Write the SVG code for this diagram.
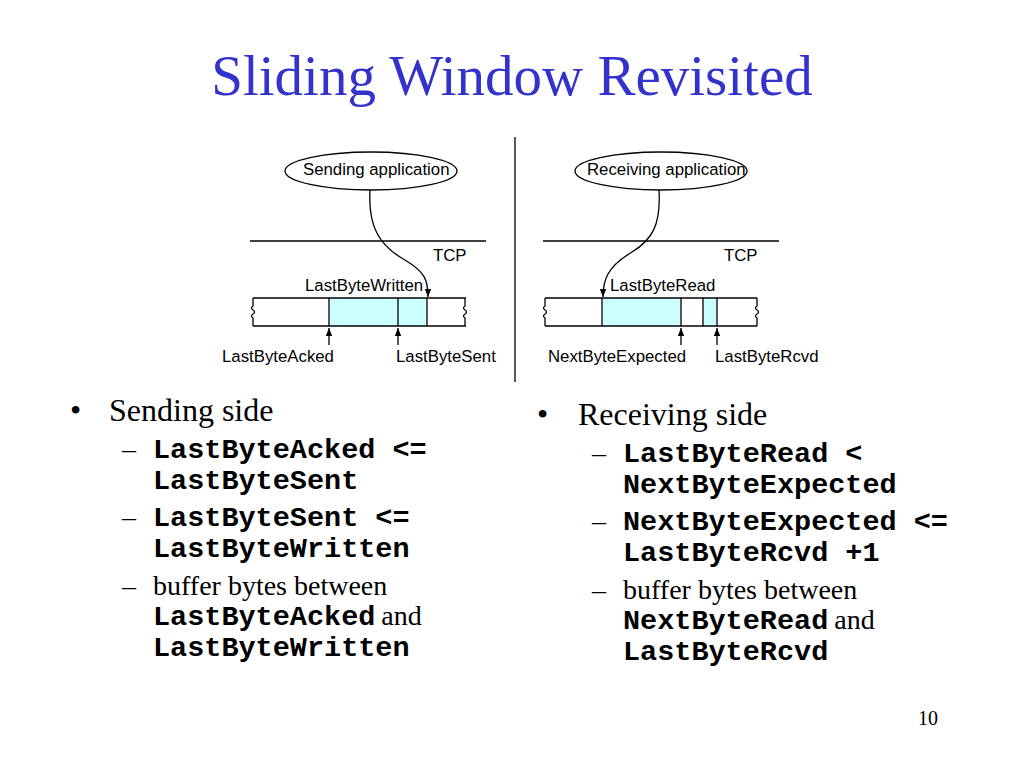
<svg xmlns="http://www.w3.org/2000/svg" width="1024" height="768" viewBox="0 0 1024 768">
<style>
.ln{stroke:#000;stroke-width:1.3;fill:none}
.fill{fill:#CCFFFF;stroke:none}
.lbl{font-family:"Liberation Sans",Arial,sans-serif;font-size:16.8px;fill:#000}
.title{font-family:"Liberation Serif","Times New Roman",serif;font-size:57px;fill:#3333CC}
.b1{font-family:"Liberation Serif","Times New Roman",serif;font-size:32px;fill:#000}
.b2{font-family:"Liberation Serif","Times New Roman",serif;font-size:28px;fill:#000}
.mono{font-family:"Liberation Mono","Courier New",monospace;font-size:28.5px;font-weight:bold;fill:#000}
.pg{font-family:"Liberation Serif","Times New Roman",serif;font-size:20px;fill:#000}
</style>
<defs>
<marker id="ah" viewBox="0 0 10 10" refX="10" refY="5" markerWidth="8" markerHeight="8" markerUnits="userSpaceOnUse" orient="auto">
<path d="M0,1 L10,5 L0,9 Z" fill="#000"/>
</marker>
</defs>
<rect width="1024" height="768" fill="#fff"/>
<text class="title" x="512" y="95" text-anchor="middle">Sliding Window Revisited</text>

<line class="ln" x1="515" y1="137" x2="515" y2="382"/>

<!-- Left diagram -->
<g id="send-app">
<ellipse class="ln" cx="371" cy="171" rx="86" ry="19"/>
<text class="lbl" x="303" y="175">Sending application</text>
</g>
<line class="ln" x1="250" y1="241" x2="486" y2="241"/>
<text class="lbl" x="433" y="261">TCP</text>
<g id="send-buffer">
<rect class="fill" x="329" y="298" width="98" height="28"/>
<line class="ln" x1="253" y1="298" x2="466" y2="298"/>
<line class="ln" x1="253" y1="326" x2="466" y2="326"/>
<path class="ln" d="M253,298 L253,306 Q250,308 253,310 Q256,312 253,314 Q250,316 253,318 L253,326"/>
<path class="ln" d="M465,298 L465,306 Q462,308 465,310 Q468,312 465,314 Q462,316 465,318 L465,326"/>
<line class="ln" x1="329" y1="298" x2="329" y2="326"/>
<line class="ln" x1="398" y1="298" x2="398" y2="326"/>
<line class="ln" x1="427" y1="298" x2="427" y2="326"/>
</g>
<text class="lbl" x="305" y="291">LastByteWritten</text>
<text class="lbl" x="222" y="362">LastByteAcked</text>
<text class="lbl" x="396" y="362">LastByteSent</text>

<!-- Right diagram -->
<g id="recv-app">
<ellipse class="ln" cx="661" cy="171" rx="86" ry="19"/>
<text class="lbl" x="587" y="175">Receiving application</text>
</g>
<line class="ln" x1="543" y1="241" x2="779" y2="241"/>
<text class="lbl" x="724" y="261">TCP</text>
<g id="recv-buffer">
<rect class="fill" x="602" y="298" width="79" height="28"/>
<rect class="fill" x="703" y="298" width="14" height="28"/>
<line class="ln" x1="545" y1="298" x2="757" y2="298"/>
<line class="ln" x1="545" y1="326" x2="757" y2="326"/>
<path class="ln" d="M545,298 L545,306 Q542,308 545,310 Q548,312 545,314 Q542,316 545,318 L545,326"/>
<path class="ln" d="M757,298 L757,306 Q754,308 757,310 Q760,312 757,314 Q754,316 757,318 L757,326"/>
<line class="ln" x1="602" y1="298" x2="602" y2="326"/>
<line class="ln" x1="681" y1="298" x2="681" y2="326"/>
<line class="ln" x1="703" y1="298" x2="703" y2="326"/>
<line class="ln" x1="717" y1="298" x2="717" y2="326"/>
</g>
<text class="lbl" x="610" y="291">LastByteRead</text>
<text class="lbl" x="548" y="362">NextByteExpected</text>
<text class="lbl" x="715" y="362">LastByteRcvd</text>

<g id="connectors">
<path class="ln" d="M370,190 C368,225 378,245 405,260 C425,272 428,280 428,297" marker-end="url(#ah)"/>
<path class="ln" d="M659,190 C661,225 652,240 632,252 C607,267 603,280 603,297" marker-end="url(#ah)"/>
<line class="ln" x1="329" y1="345" x2="329" y2="328" marker-end="url(#ah)"/>
<line class="ln" x1="398" y1="345" x2="398" y2="328" marker-end="url(#ah)"/>
<line class="ln" x1="681" y1="345" x2="681" y2="328" marker-end="url(#ah)"/>
<line class="ln" x1="717" y1="345" x2="717" y2="328" marker-end="url(#ah)"/>
</g>

<!-- Left bullets -->
<text class="b1" x="70" y="421">•</text>
<text class="b1" x="109" y="421">Sending side</text>
<text class="b2" x="122" y="458">–</text>
<text class="mono" x="153" y="458">LastByteAcked &lt;=</text>
<text class="mono" x="153" y="489">LastByteSent</text>
<text class="b2" x="122" y="526">–</text>
<text class="mono" x="153" y="526">LastByteSent &lt;=</text>
<text class="mono" x="153" y="557">LastByteWritten</text>
<text class="b2" x="122" y="595">–</text>
<text class="b2" x="153" y="595">buffer bytes between</text>
<text x="153" y="625"><tspan class="mono">LastByteAcked</tspan><tspan class="b2" dx="6">and</tspan></text>
<text class="mono" x="153" y="656">LastByteWritten</text>

<!-- Right bullets -->
<text class="b1" x="537" y="425">•</text>
<text class="b1" x="578" y="425">Receiving side</text>
<text class="b2" x="592" y="462">–</text>
<text class="mono" x="623" y="462">LastByteRead &lt;</text>
<text class="mono" x="623" y="493">NextByteExpected</text>
<text class="b2" x="592" y="530">–</text>
<text class="mono" x="623" y="530">NextByteExpected &lt;=</text>
<text class="mono" x="623" y="561">LastByteRcvd +1</text>
<text class="b2" x="592" y="599">–</text>
<text class="b2" x="623" y="599">buffer bytes between</text>
<text x="623" y="629"><tspan class="mono">NextByteRead</tspan><tspan class="b2" dx="6">and</tspan></text>
<text class="mono" x="623" y="660">LastByteRcvd</text>

<text class="pg" x="918" y="725">10</text>
</svg>
